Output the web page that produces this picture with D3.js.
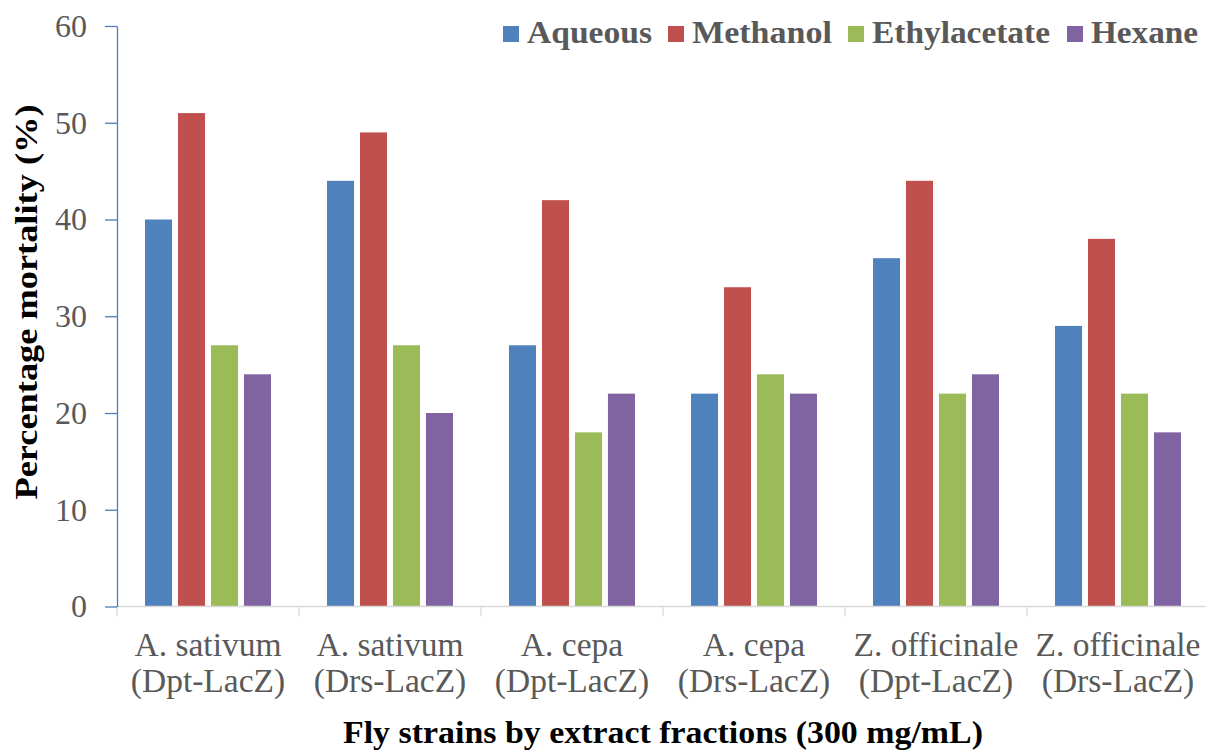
<!DOCTYPE html>
<html>
<head>
<meta charset="utf-8">
<script src="https://cdn.jsdelivr.net/npm/d3@7"></script>
<style>
  html, body { margin: 0; padding: 0; background: #fff; }
  svg { display: block; }
  text { font-family: "Liberation Serif", "Times New Roman", serif; }
</style>
</head>
<body>
<svg id="chart" width="1206" height="750"></svg>
<script>
// Percentage mortality of fly strains per extract fraction (300 mg/mL)
const strains = [
  ["A. sativum", "(Dpt-LacZ)"],
  ["A. sativum", "(Drs-LacZ)"],
  ["A. cepa", "(Dpt-LacZ)"],
  ["A. cepa", "(Drs-LacZ)"],
  ["Z. officinale", "(Dpt-LacZ)"],
  ["Z. officinale", "(Drs-LacZ)"]
];
const fractions = ["Aqueous", "Methanol", "Ethylacetate", "Hexane"];
const aqueous      = [40, 44, 27, 22, 36, 29];
const methanol     = [51, 49, 42, 33, 44, 38];
const ethylacetate = [27, 27, 18, 24, 22, 22];
const hexane       = [24, 20, 22, 22, 24, 18];
const yTicks = [0, 10, 20, 30, 40, 50, 60];
const colors = ["#4F81BD", "#C0504D", "#9BBB59", "#8064A2"];

const seriesValues = [aqueous, methanol, ethylacetate, hexane];
const svg = d3.select("#chart");

const x0 = d3.scaleBand()
  .domain(d3.range(strains.length))
  .range([117, 1209])
  .padding(0);

const x1 = d3.scaleBand()
  .domain(fractions)
  .range([28, 154])
  .paddingInner(0.18)
  .paddingOuter(0);

const y = d3.scaleLinear().domain([0, 60]).range([606.5, 26]);
const color = d3.scaleOrdinal().domain(fractions).range(colors);

// Bars
const groups = svg.append("g").selectAll("g")
  .data(strains.map((s, i) => i))
  .join("g")
  .attr("transform", i => `translate(${x0(i)},0)`);

groups.selectAll("rect")
  .data(i => fractions.map((f, k) => ({ f, v: seriesValues[k][i] })))
  .join("rect")
  .attr("x", d => x1(d.f))
  .attr("width", x1.bandwidth())
  .attr("y", d => y(d.v))
  .attr("height", d => y(0) - y(d.v))
  .attr("fill", d => color(d.f));

// X axis: light baseline with ticks between categories
const xAxisG = svg.append("g");
xAxisG.append("line")
  .attr("x1", x0.range()[0]).attr("x2", x0.range()[1])
  .attr("y1", y(0)).attr("y2", y(0))
  .attr("stroke", "#D9D9D9").attr("stroke-width", 1.3);
xAxisG.selectAll("line.tick")
  .data(d3.range(strains.length + 1))
  .join("line")
  .attr("class", "tick")
  .attr("x1", i => x0.range()[0] + i * x0.step())
  .attr("x2", i => x0.range()[0] + i * x0.step())
  .attr("y1", y(0)).attr("y2", y(0) + 10)
  .attr("stroke", "#D9D9D9").attr("stroke-width", 1.3);

const catLabels = xAxisG.selectAll("text.cat")
  .data(strains)
  .join("text")
  .attr("class", "cat")
  .attr("text-anchor", "middle")
  .attr("fill", "#595959")
  .attr("font-size", 33.5);
catLabels.append("tspan")
  .attr("x", (d, i) => x0(i) + x0.bandwidth() / 2)
  .attr("y", 656)
  .text(d => d[0]);
catLabels.append("tspan")
  .attr("x", (d, i) => x0(i) + x0.bandwidth() / 2)
  .attr("y", 692)
  .text(d => d[1]);

// Y axis
const yAxis = d3.axisLeft(y).tickValues(yTicks).tickSize(12).tickPadding(18).tickSizeOuter(0);
const yAxisG = svg.append("g")
  .attr("transform", "translate(117,0)")
  .call(yAxis);
yAxisG.select(".domain").attr("stroke", "#4A7EBB").attr("stroke-width", 1.3);
yAxisG.selectAll(".tick line").attr("stroke", "#4A7EBB").attr("stroke-width", 1.3);
yAxisG.selectAll(".tick text")
  .attr("fill", "#595959")
  .attr("font-size", 32)
  .attr("font-family", "Liberation Serif, Times New Roman, serif");

// Axis titles
svg.append("text")
  .attr("x", 663).attr("y", 743)
  .attr("text-anchor", "middle")
  .attr("font-weight", "bold")
  .attr("font-size", 31)
  .attr("fill", "#000")
  .attr("textLength", 640)
  .attr("lengthAdjust", "spacingAndGlyphs")
  .text("Fly strains by extract fractions (300 mg/mL)");

svg.append("text")
  .attr("transform", "translate(37,302) rotate(-90)")
  .attr("text-anchor", "middle")
  .attr("font-weight", "bold")
  .attr("font-size", 32)
  .attr("fill", "#000")
  .attr("textLength", 395)
  .attr("lengthAdjust", "spacingAndGlyphs")
  .text("Percentage mortality (%)");

// Legend
const legendX = [503, 668, 848, 1067];
const legendW = [125, 140, 178, 107];
const legend = svg.append("g").selectAll("g")
  .data(fractions)
  .join("g")
  .attr("transform", (d, i) => `translate(${legendX[i]},0)`);
legend.append("rect")
  .attr("x", 0).attr("y", 26)
  .attr("width", 16).attr("height", 16)
  .attr("fill", d => color(d));
legend.append("text")
  .attr("x", 24).attr("y", 43)
  .attr("font-weight", "bold")
  .attr("font-size", 31)
  .attr("fill", "#595959")
  .attr("textLength", (d, i) => legendW[i])
  .attr("lengthAdjust", "spacingAndGlyphs")
  .text(d => d);
</script>
</body>
</html>
